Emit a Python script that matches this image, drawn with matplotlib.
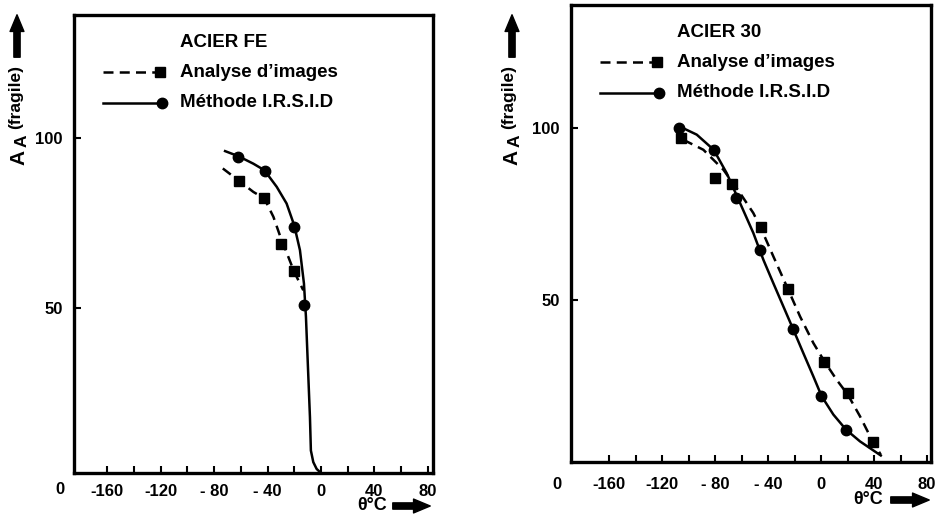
import matplotlib
matplotlib.use("Agg")
import matplotlib.pyplot as plt

plt.rcParams['font.family'] = ['Liberation Sans', 'DejaVu Sans']
plt.rcParams['font.weight'] = 'bold'

# ---- ACIER FE (left panel) ----
fe_img_x = [-61, -43, -30, -20]
fe_img_y = [87.5, 82.5, 69, 61]
fe_irsid_x = [-62, -42, -20, -13]
fe_irsid_y = [94.5, 90.5, 74, 51]

fe_img_curve_x = [-73.5, -61.8, -50.6, -42.4, -35.6, -29.9, -24.4, -20, -15.7, -13.2]
fe_img_curve_y = [91.1, 87.6, 84.2, 82.3, 76.9, 70.5, 65.1, 60.7, 57.3, 55.3]
fe_irsid_curve_x = [-71.8, -61.8, -50.6, -42.4, -33.1, -25.7, -20.0, -15.7, -12.7,
                    -11.2, -10.2, -9.2, -8.2, -7.5, -5.7, -3.2, -1.3]
fe_irsid_curve_y = [96.2, 94.7, 92.5, 90.6, 85.7, 80.8, 74.4, 67.1, 57.3,
                    47.5, 37.6, 27.8, 18.0, 8.2, 4.8, 2.8, 2.1]

# ---- ACIER 30 (right panel) ----
a30_img_x = [-106, -80, -67, -45, -25, 2, 20, 39]
a30_img_y = [97, 85.5, 83.5, 71, 53, 32, 23, 8.6]
a30_irsid_x = [-107, -81, -64, -46, -21, 0, 19]
a30_irsid_y = [100, 93.5, 79.5, 64.5, 41.5, 22, 12]

a30_img_curve_x = [-103.9, -88.8, -73.7, -61.1, -51.1, -44.8, -36.0, -25.9, -15.8,
                   -5.8, 2.5, 11.8, 20.2, 29.4, 37.0, 45.1]
a30_img_curve_y = [96.5, 93.6, 87.8, 81.0, 75.2, 70.3, 62.6, 53.9, 45.1,
                   37.4, 32.1, 26.7, 22.4, 16.1, 10.3, 4.9]
a30_irsid_curve_x = [-106.9, -93.8, -81.0, -71.2, -61.1, -51.1, -43.5, -36.0, -28.5,
                     -20.9, -13.4, -5.8, 0.5, 9.3, 18.9, 29.4, 45.1]
a30_irsid_curve_y = [100.4, 98.0, 93.6, 86.8, 78.1, 69.4, 61.6, 54.8, 48.1,
                     41.3, 34.5, 27.7, 21.9, 16.6, 12.2, 8.8, 4.7]

xticks = [-160, -120, -80, -40, 0, 40, 80]
xticklabels = ['-160', '-120', '- 80', '- 40', '0', '40', '80']
minor_x = list(range(-160, 81, 20))
yticks = [50, 100]

W, H = 939, 518
fig = plt.figure(figsize=(W / 100, H / 100), dpi=100)


def px(x0, y0, x1, y1):
    return [x0 / W, 1 - y1 / H, (x1 - x0) / W, (y1 - y0) / H]


panels = [
    dict(rect=px(74, 15, 433, 473), xlim=(-185, 84), ylim=(1.6, 136.2), title='ACIER FE',
         img=(fe_img_x, fe_img_y, fe_img_curve_x, fe_img_curve_y),
         irsid=(fe_irsid_x, fe_irsid_y, fe_irsid_curve_x, fe_irsid_curve_y),
         pad=8, zero_y=-0.037, ylab_x=19, arrow_y_x=17, theta=(372, 506),
         arrow_x=(390, 433, 506)),
    dict(rect=px(571, 5, 931, 462), xlim=(-188.7, 83), ylim=(2.8, 135.7), title='ACIER 30',
         img=(a30_img_x, a30_img_y, a30_img_curve_x, a30_img_curve_y),
         irsid=(a30_irsid_x, a30_irsid_y, a30_irsid_curve_x, a30_irsid_curve_y),
         pad=11, zero_y=-0.05, ylab_x=512, arrow_y_x=512, theta=(868, 500),
         arrow_x=(888, 932, 500)),
]

for p in panels:
    ax = fig.add_axes(p['rect'])
    ix, iy, icx, icy = p['img']
    rx, ry, rcx, rcy = p['irsid']
    ax.plot(icx, icy, color='black', lw=1.8, ls=(0, (4, 2.5)))
    ax.plot(ix, iy, ls='none', marker='s', ms=6.5, color='black')
    ax.plot(rcx, rcy, color='black', lw=1.8)
    ax.plot(rx, ry, ls='none', marker='o', ms=7.5, color='black')

    ax.set_xlim(*p['xlim'])
    ax.set_ylim(*p['ylim'])
    ax.set_xticks(xticks)
    ax.set_xticklabels(xticklabels)
    ax.set_xticks(minor_x, minor=True)
    ax.set_yticks(yticks)
    ax.tick_params(which='both', direction='in', length=5, width=1.5,
                   labelsize=12, top=False, right=False)
    ax.tick_params(axis='x', pad=p['pad'])
    ax.tick_params(axis='y', pad=8)
    for lab in ax.get_xticklabels() + ax.get_yticklabels():
        lab.set_fontweight('bold')
    for s in ax.spines.values():
        s.set_linewidth(2.4)
    # origin label of the y axis
    ax.text(-0.038, p['zero_y'], '0', transform=ax.transAxes, ha='center', va='center',
            fontsize=12, fontweight='bold')

    # legend block
    ax.text(0.295, 0.94, p['title'], transform=ax.transAxes, ha='left', va='center',
            fontsize=13.5, fontweight='bold')
    ax.plot([0.08, 0.24], [0.875, 0.875], transform=ax.transAxes, color='black',
            lw=1.8, ls=(0, (4, 2.5)))
    ax.plot([0.24], [0.875], transform=ax.transAxes, marker='s', ms=6.5, color='black')
    ax.text(0.295, 0.875, 'Analyse d\u2019images', transform=ax.transAxes, ha='left',
            va='center', fontsize=13.5, fontweight='bold')
    ax.plot([0.08, 0.245], [0.808, 0.808], transform=ax.transAxes, color='black', lw=1.8)
    ax.plot([0.245], [0.808], transform=ax.transAxes, marker='o', ms=7.5, color='black')
    ax.text(0.295, 0.808, 'M\u00e9thode I.R.S.I.D', transform=ax.transAxes, ha='left',
            va='center', fontsize=13.5, fontweight='bold')

    # y label A_A(fragile) with arrow
    yx = p['ylab_x']
    fig.text(yx / W, 1 - 157 / H, 'A', rotation=90, ha='center', va='center',
             fontsize=15, fontweight='bold')
    fig.text((yx + 3) / W, 1 - 141 / H, 'A', rotation=90, ha='center', va='center',
             fontsize=12.5, fontweight='bold')
    fig.text((yx - 3) / W, 1 - 97 / H, '(fragile)', rotation=90, ha='center', va='center',
             fontsize=12.5, fontweight='bold')
    ax_x = p['arrow_y_x'] / W
    fig.add_artist(matplotlib.patches.FancyArrowPatch(
        (ax_x, 1 - 60 / H), (ax_x, 1 - 12 / H), transform=fig.transFigure,
        arrowstyle='simple,head_width=1.0,head_length=1.2,tail_width=0.45',
        mutation_scale=10, color='black'))

    # x label theta C with arrow
    tx, ty = p['theta']
    fig.text(tx / W, 1 - ty / H, '\u03b8\u00b0C', ha='center', va='center',
             fontsize=13, fontweight='bold')
    a0, a1, ay = p['arrow_x']
    fig.add_artist(matplotlib.patches.FancyArrowPatch(
        (a0 / W, 1 - ay / H), (a1 / W, 1 - ay / H), transform=fig.transFigure,
        arrowstyle='simple,head_width=1.0,head_length=1.2,tail_width=0.45',
        mutation_scale=10, color='black'))

fig.savefig('out.png', dpi=100)
